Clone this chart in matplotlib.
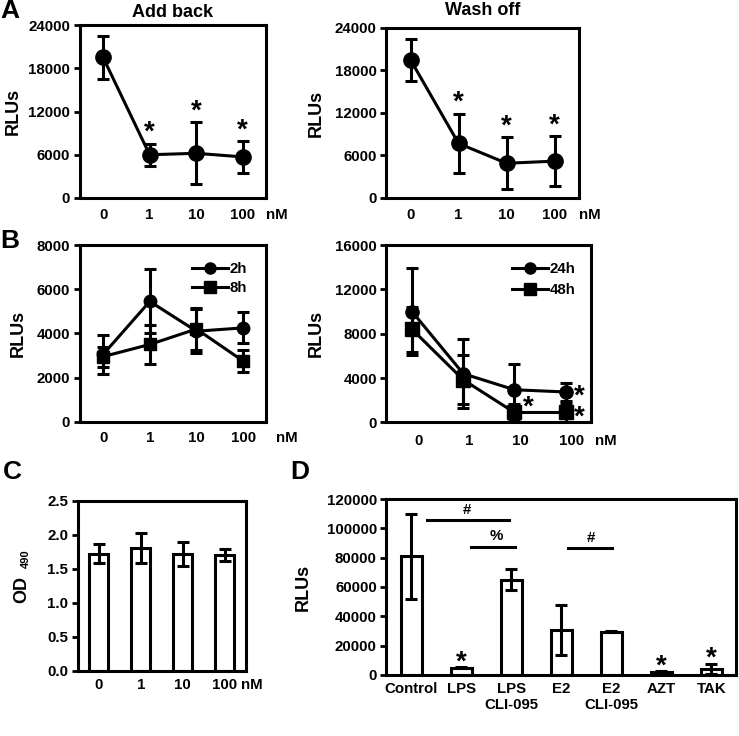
import numpy as np
import matplotlib.pyplot as plt
from matplotlib.transforms import ScaledTranslation

plt.rcParams['font.family'] = ['Liberation Sans', 'DejaVu Sans']
plt.rcParams['font.weight'] = 'bold'
plt.rcParams['axes.labelweight'] = 'bold'
plt.rcParams['axes.linewidth'] = 2.2

# ---------------- data ----------------
doses = ['0', '1', '10', '100']

# A: add back / wash off
addback_mean = [19500, 6000, 6200, 5700]
addback_err = [3000, 1500, 4300, 2200]
washoff_mean = [19500, 7700, 4900, 5200]
washoff_err = [3000, 4200, 3700, 3500]

# B: time course
h2_mean = [3050, 5450, 4100, 4250]
h2_err = [900, 1450, 1000, 700]
h8_mean = [2950, 3500, 4200, 2750]
h8_err = [450, 900, 950, 480]
h24_mean = [10000, 4400, 2950, 2750]
h24_err = [3900, 3100, 2300, 800]
h48_mean = [8400, 3850, 900, 900]
h48_err = [2000, 2200, 800, 900]

# C: viability
od_mean = [1.72, 1.81, 1.72, 1.70]
od_err = [0.14, 0.22, 0.18, 0.09]

# D: treatments
treat = ['Control', 'LPS', 'LPS\nCLI-095', 'E2', 'E2\nCLI-095', 'AZT', 'TAK']
treat_mean = [81000, 5000, 65000, 30500, 29500, 2200, 4100]
treat_err = [29000, 400, 7000, 17000, 400, 300, 3400]
treat_star = [False, True, False, False, False, True, True]

FS = 10.8
LW = 2.2
STAR = 20


def style(ax, ymax, yticks, fmt='{:d}', xpad=7):
    ax.set_xlim(-0.5, len(ax.get_xticks()) - 0.5)
    ax.set_ylim(0, ymax)
    ax.set_yticks(yticks)
    ax.set_yticklabels([fmt.format(v) for v in yticks], fontsize=FS, fontweight='bold')
    ax.tick_params(axis='y', direction='out', length=4, width=2, pad=3)
    ax.tick_params(axis='x', length=0, pad=xpad, labelsize=FS)
    for lab in ax.get_xticklabels():
        lab.set_fontweight('bold')


def nm(ax, xfrac, xpad=7):
    ax.annotate('nM', xy=(xfrac, 0), xycoords='axes fraction', xytext=(0, -xpad),
                textcoords='offset points', ha='center', va='top', fontsize=FS, fontweight='bold')


def line_panel(ax, mean, err, marker, ms):
    x = np.arange(len(mean))
    ax.errorbar(x, mean, yerr=err, fmt='-', marker=marker, color='black', ms=ms,
                lw=LW, elinewidth=LW, capsize=4, capthick=LW, zorder=3)


def star(ax, x, y, s='*', **kw):
    ax.text(x, y, s, ha='center', va='center', fontsize=STAR, fontweight='bold', **kw)


fig = plt.figure(figsize=(7.39, 7.36), dpi=100)

# ---------- A left ----------
ax = fig.add_axes([0.108, 0.731, 0.252, 0.235])
ax.set_xticks(range(4))
ax.set_xticklabels(doses)
line_panel(ax, addback_mean, addback_err, 'o', 11)
style(ax, 24000, [0, 6000, 12000, 18000, 24000], xpad=7)
nm(ax, 1.06, 7)
for i in [1, 2, 3]:
    star(ax, i, addback_mean[i] + addback_err[i] + 1500)
ax.set_ylabel('RLUs', fontsize=13)
ax.yaxis.set_label_coords(-0.313, 0.5)
ax.set_title('Add back', fontsize=13, fontweight='bold', pad=6)

# ---------- A right ----------
ax = fig.add_axes([0.523, 0.731, 0.260, 0.231])
ax.set_xticks(range(4))
ax.set_xticklabels(doses)
line_panel(ax, washoff_mean, washoff_err, 'o', 11)
style(ax, 24000, [0, 6000, 12000, 18000, 24000], xpad=7)
nm(ax, 1.057, 7)
for i in [1, 2, 3]:
    star(ax, i, washoff_mean[i] + washoff_err[i] + 1500)
ax.set_ylabel('RLUs', fontsize=13)
ax.yaxis.set_label_coords(-0.32, 0.5)
ax.set_title('Wash off', fontsize=13, fontweight='bold', pad=9)

# ---------- B left ----------
ax = fig.add_axes([0.108, 0.427, 0.2525, 0.240])
ax.set_xticks(range(4))
ax.set_xticklabels(doses)
line_panel(ax, h2_mean, h2_err, 'o', 9)
line_panel(ax, h8_mean, h8_err, 's', 9)
style(ax, 8000, [0, 2000, 4000, 6000, 8000], xpad=7)
nm(ax, 1.109, 7)
ax.plot([], [], '-o', color='black', lw=LW, ms=8, label='2h')
ax.plot([], [], '-s', color='black', lw=LW, ms=8, label='8h')
h, l = ax.get_legend_handles_labels()
ax.legend(h[-2:], l[-2:], loc='upper left', bbox_to_anchor=(0.6, 0.905), frameon=False,
          handlelength=2.4, handletextpad=0.1, labelspacing=0.35, borderaxespad=0,
          borderpad=0, prop={'size': FS, 'weight': 'bold'})
ax.set_ylabel('RLUs', fontsize=13)
ax.yaxis.set_label_coords(-0.285, 0.5)

# ---------- B right ----------
ax = fig.add_axes([0.523, 0.426, 0.277, 0.241])
ax.set_xticks(range(4))
ax.set_xticklabels(doses)
line_panel(ax, h24_mean, h24_err, 'o', 9.5)
line_panel(ax, h48_mean, h48_err, 's', 9.5)
style(ax, 16000, [0, 4000, 8000, 12000, 16000], xpad=8)
for lab in ax.get_xticklabels():
    lab.set_transform(lab.get_transform() + ScaledTranslation(0.06, 0, fig.dpi_scale_trans))
nm(ax, 1.073, 8)
star(ax, 2.27, h48_mean[2] + 450)
# stars of both series at 100 nM, one text block
star(ax, 3.27, 1380, '*\n*', linespacing=0.76)
ax.plot([], [], '-o', color='black', lw=LW, ms=8, label='24h')
ax.plot([], [], '-s', color='black', lw=LW, ms=8, label='48h')
h, l = ax.get_legend_handles_labels()
ax.legend(h[-2:], l[-2:], loc='upper left', bbox_to_anchor=(0.615, 0.905), frameon=False,
          handlelength=2.4, handletextpad=0.1, labelspacing=0.5, borderaxespad=0,
          borderpad=0, prop={'size': FS, 'weight': 'bold'})
ax.set_ylabel('RLUs', fontsize=13)
ax.yaxis.set_label_coords(-0.30, 0.5)

# ---------- C ----------
ax = fig.add_axes([0.1055, 0.0887, 0.227, 0.231])
ax.set_xticks(range(4))
ax.set_xticklabels(doses)
ax.bar(range(4), od_mean, width=0.45, color='white', edgecolor='black', lw=2.2,
       yerr=od_err, error_kw=dict(elinewidth=LW, capsize=4, capthick=LW))
style(ax, 2.5, [0, 0.5, 1.0, 1.5, 2.0, 2.5], fmt='{:.1f}', xpad=5)
nm(ax, 1.034, 5)
ax.text(-0.336, 0.48, 'OD', transform=ax.transAxes, rotation=90, ha='center', va='center',
        fontsize=13, fontweight='bold')
ax.text(-0.31, 0.657, '490', transform=ax.transAxes, rotation=90, ha='center', va='center',
        fontsize=8, fontweight='bold')

# ---------- D ----------
ax = fig.add_axes([0.523, 0.083, 0.4736, 0.239])
ax.set_xticks(range(len(treat)))
ax.set_xticklabels(treat, linespacing=1.2)
ax.bar(range(len(treat)), treat_mean, width=0.41, color='white', edgecolor='black', lw=2.2,
       yerr=treat_err, error_kw=dict(elinewidth=LW, capsize=4, capthick=LW))
style(ax, 120000, [0, 20000, 40000, 60000, 80000, 100000, 120000], xpad=5)
for i, s in enumerate(treat_star):
    if s:
        star(ax, i, treat_mean[i] + treat_err[i] + 3300)
ax.plot([0.31, 1.95], [105700, 105700], color='black', lw=LW)
ax.text(1.1, 108000, '#', ha='center', va='bottom', fontsize=FS)
ax.plot([1.2, 2.08], [87500, 87500], color='black', lw=LW)
ax.text(1.7, 89800, '%', ha='center', va='bottom', fontsize=FS)
ax.plot([3.13, 4.01], [86400, 86400], color='black', lw=LW)
ax.text(3.58, 88700, '#', ha='center', va='bottom', fontsize=FS)
ax.set_ylabel('RLUs', fontsize=13)
ax.yaxis.set_label_coords(-0.214, 0.5)

# panel letters
for lab, x, y in [('A', 10, 11), ('B', 10, 241), ('C', 12, 472), ('D', 300, 472)]:
    fig.text(x / 739, 1 - y / 736, lab, ha='center', va='center', fontsize=19, fontweight='bold')

fig.savefig('out.png', dpi=100)
